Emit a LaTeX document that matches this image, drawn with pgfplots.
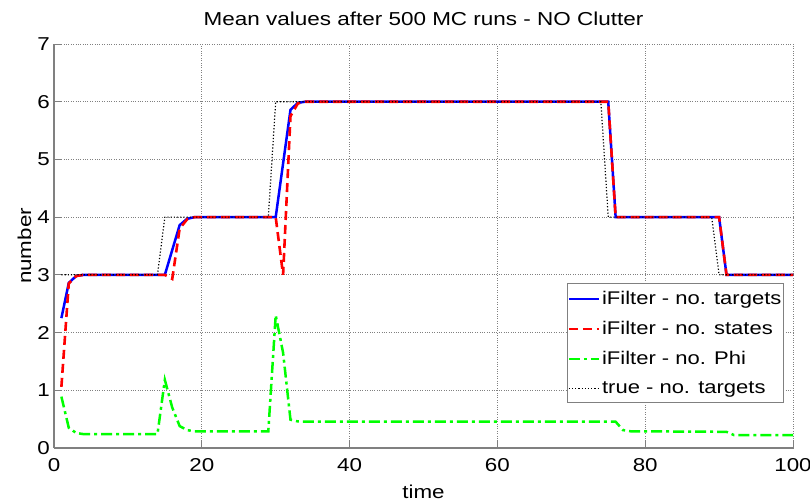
\documentclass[border=0pt]{standalone}
\usepackage{pgfplots}
\pgfplotsset{compat=1.18}
\usepackage{fontspec}
\setmainfont{Liberation Sans}[FakeStretch=1.2]
\definecolor{axgray}{gray}{0.5}
\begin{document}
\begin{tikzpicture}
\begin{axis}[
  name=ax,
  scale only axis,
  width=739bp, height=404bp,
  xmin=0, xmax=100, ymin=0, ymax=7,
  xtick={0,20,40,60,80,100},
  ytick={0,1,2,3,4,5,6,7},
  axis x line*=bottom, axis y line*=left,
  axis line style={-, draw=axgray, line width=1.2bp},
  tick style={draw=axgray, line width=0.8bp},
  major tick length=7bp,
  tick align=inside,
  grid=major,
  major grid style={dotted, draw=gray, line width=0.7bp},
  /pgf/number format/assume math mode=true,
  tick label style={font=\fontsize{18.7}{22}\selectfont},
  xticklabel style={anchor=base, yshift=-24bp},
  yticklabel style={inner sep=0pt, xshift=-4bp},
  title={Mean values after 500 MC runs - NO Clutter},
  every axis title/.style={font=\fontsize{18.8}{22}\selectfont, at={(axis description cs:0.5,1)}, anchor=base, yshift=18bp, inner sep=0pt},
  xlabel={time},
  xlabel style={font=\fontsize{18.7}{22}\selectfont, at={(axis description cs:0.5,-0.1238)}, anchor=base, inner sep=0pt},
  ylabel={number},
  ylabel style={font=\fontsize{18.7}{22}\selectfont, at={(axis description cs:-0.0311,0.5)}, anchor=base, inner sep=0pt},
  legend style={at={(axis description cs:0.9875,0.408)}, anchor=north east, draw=axgray, line width=0.8bp,
    font=\fontsize{18.4}{22}\selectfont, inner xsep=0bp, inner ysep=6bp, row sep=11.2bp,
    /tikz/every even column/.append style={column sep=1bp}},
  legend cell align=left,
  legend image code/.code={\draw[#1] (0bp,0bp) -- (30bp,0bp);},
]
\addplot[blue, line width=2.5bp] coordinates {
(1,2.25)(2,2.86)(3,2.98)(4,3.0)(15,3.0)(16,3.43)(17,3.86)(18,3.97)(19,4.0)(30,4.0)(31,4.93)(32,5.86)(33,5.98)(34,6.0)(75,6.0)(76,4.0)(90,4.0)(91,3.0)(100,3.0)};
\addlegendentry{iFilter - no. targets}
\addplot[red, line width=2.6bp, dash pattern=on 9bp off 5bp] coordinates {
(1,1.06)(2,2.85)(3,2.98)(4,3.0)(15,3.0)(16,2.93)(17,3.8)(18,3.96)(19,4.0)(30,4.0)(31,3.0)(32,5.75)(33,5.97)(34,6.0)(75,6.0)(76,4.0)(90,4.0)(91,3.0)(100,3.0)};
\addlegendentry{iFilter - no. states}
\addplot[green, line width=2.5bp, dash pattern=on 11bp off 4bp on 3bp off 4bp] coordinates {
(1,0.89)(2,0.35)(3,0.26)(4,0.24)(14,0.24)(15,1.18)(16,0.7)(17,0.38)(18,0.31)(19,0.29)(29,0.29)(30,2.30)(31,1.65)(32,0.49)(33,0.46)(34,0.455)(76,0.455)(77,0.31)(78,0.29)(91,0.28)(92,0.225)(100,0.225)};
\addlegendentry{iFilter - no. Phi}
\addplot[black, line width=1.2bp, dash pattern=on 1.2bp off 2bp] coordinates {
(1,3)(14,3)(15,4)(29,4)(30,6)(74,6)(75,4)(89,4)(90,3)(100,3)};
\addlegendentry{true - no. targets}
\end{axis}
\pgfresetboundingbox
\path ([shift={(-54bp,-54bp)}]ax.south west) rectangle ([shift={(17bp,44bp)}]ax.north east);
\end{tikzpicture}
\end{document}
